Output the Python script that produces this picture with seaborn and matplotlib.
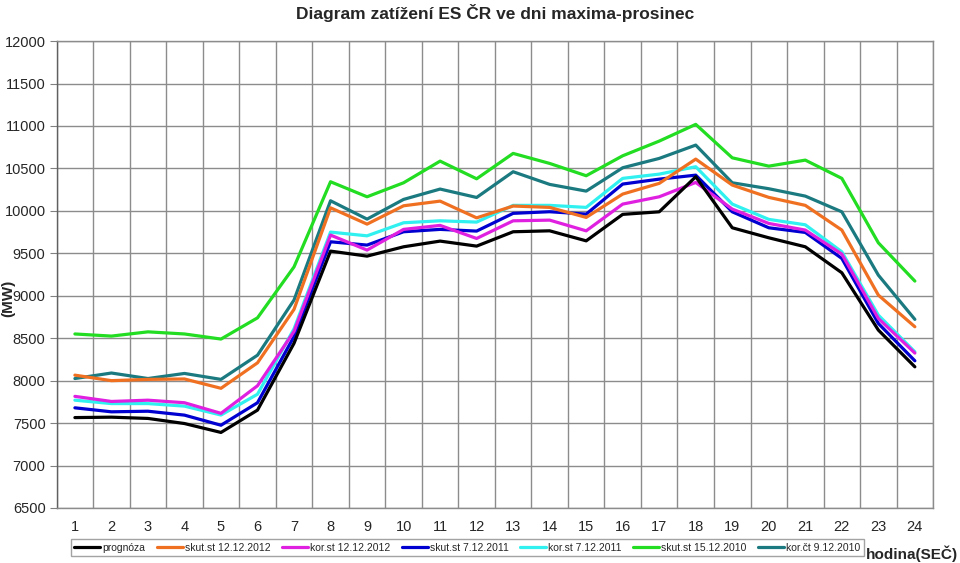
import numpy as np
import pandas as pd
import seaborn as sns
import matplotlib.pyplot as plt

hours = list(range(1, 25))

prognoza = [7565, 7570, 7555, 7495, 7390, 7653, 8440, 9526, 9467, 9577, 9644, 9585,
            9754, 9765, 9647, 9959, 9989, 10402, 9801, 9683, 9577, 9271, 8596, 8163]
skut_2012 = [8065, 8000, 8015, 8020, 7910, 8210, 8840, 10036, 9844, 10060, 10115, 9918,
             10057, 10041, 9923, 10198, 10324, 10610, 10304, 10159, 10065, 9774, 9008, 8635]
kor_2012 = [7815, 7755, 7770, 7740, 7615, 7940, 8580, 9715, 9538, 9782, 9829, 9675,
            9883, 9891, 9765, 10080, 10166, 10335, 10021, 9852, 9774, 9491, 8733, 8325]
skut_2011 = [7680, 7633, 7640, 7594, 7475, 7740, 8520, 9636, 9597, 9754, 9782, 9762,
             9971, 9990, 9962, 10316, 10374, 10421, 9989, 9801, 9746, 9440, 8674, 8234]
kor_2011 = [7770, 7730, 7730, 7700, 7595, 7840, 8610, 9750, 9706, 9860, 9883, 9868,
            10065, 10065, 10041, 10383, 10433, 10520, 10080, 9900, 9836, 9518, 8772, 8340]
skut_2010 = [8550, 8525, 8575, 8550, 8490, 8740, 9340, 10343, 10166, 10331, 10586, 10378,
             10677, 10559, 10414, 10649, 10822, 11019, 10625, 10527, 10598, 10383, 9624, 9173]
kor_2010 = [8025, 8090, 8025, 8085, 8015, 8300, 8950, 10119, 9903, 10135, 10257, 10158,
            10461, 10312, 10233, 10508, 10618, 10775, 10331, 10261, 10174, 9989, 9243, 8722]

series_names = ["prognóza", "skut.st 12.12.2012", "kor.st 12.12.2012", "skut.st 7.12.2011",
                "kor.st 7.12.2011", "skut.st 15.12.2010", "kor.čt 9.12.2010"]
series_values = [prognoza, skut_2012, kor_2012, skut_2011, kor_2011, skut_2010, kor_2010]
colors = ["#000000", "#F07022", "#E020E0", "#0000D0", "#30F0F0", "#22DD22", "#1A7A80"]

y_ticks = list(range(6500, 12001, 500))

# long table for seaborn
df = pd.DataFrame({
    "hodina": hours * len(series_names),
    "MW": np.concatenate(series_values),
    "rada": np.repeat(series_names, len(hours)),
})

sns.set_style("white")
plt.rcParams["font.family"] = ["Liberation Sans", "DejaVu Sans"]

fig = plt.figure(figsize=(9.6, 5.63), dpi=100)
ax = fig.add_axes([0.059, 0.0977, 0.913, 0.8293])

# draw the later series first so prognóza sits on top
for i in range(len(series_names))[::-1]:
    sub = df[df["rada"] == series_names[i]]
    sns.lineplot(data=sub, x="hodina", y="MW", color=colors[i], linewidth=2.3,
                 ax=ax, legend=False)

ax.set_xlim(0.5, 24.5)
ax.set_ylim(6500, 12000)
ax.set_xticks(hours)
ax.set_xticklabels([str(h) for h in hours], fontsize=10.5)
ax.set_xticks(np.arange(0.5, 25, 1), minor=True)
ax.set_yticks(y_ticks)
ax.set_yticklabels([str(v) for v in y_ticks], fontsize=10.5)
ax.tick_params(axis="x", which="both", length=0, pad=9)
ax.tick_params(axis="y", which="major", length=5, color="#808080", direction="out", left=True, pad=3)

ax.grid(True, axis="y", which="major", color="#8c8c8c", linewidth=1)
ax.grid(True, axis="x", which="minor", color="#8c8c8c", linewidth=1)
ax.grid(False, axis="x", which="major")
for s in ax.spines.values():
    s.set_color("#8c8c8c")
    s.set_linewidth(1)
ax.spines["left"].set_color("#606060")

ax.set_xlabel("")
ax.set_ylabel("(MW)", fontsize=11, fontweight="bold")
ax.yaxis.set_label_coords(-0.047, 0.45)
ax.set_title("Diagram zatížení ES ČR ve dni maxima-prosinec", fontsize=12.5,
             fontweight="bold", pad=16)

handles = [plt.Line2D([], [], color=c, linewidth=2.3) for c in colors]
fig.legend(handles, series_names, loc="center", bbox_to_anchor=(0.487, 0.0275),
           ncol=7, frameon=True, fancybox=False, edgecolor="#8c8c8c",
           prop={"family": ["Liberation Sans Narrow", "Liberation Sans"], "size": 7.5},
           handlelength=2.5, handletextpad=0.2, columnspacing=1.1,
           borderpad=0.35, borderaxespad=0)

fig.text(0.998, 0.017, "hodina(SEČ)", fontsize=11, fontweight="bold",
         ha="right", va="center")

fig.savefig("out.png", dpi=100)
